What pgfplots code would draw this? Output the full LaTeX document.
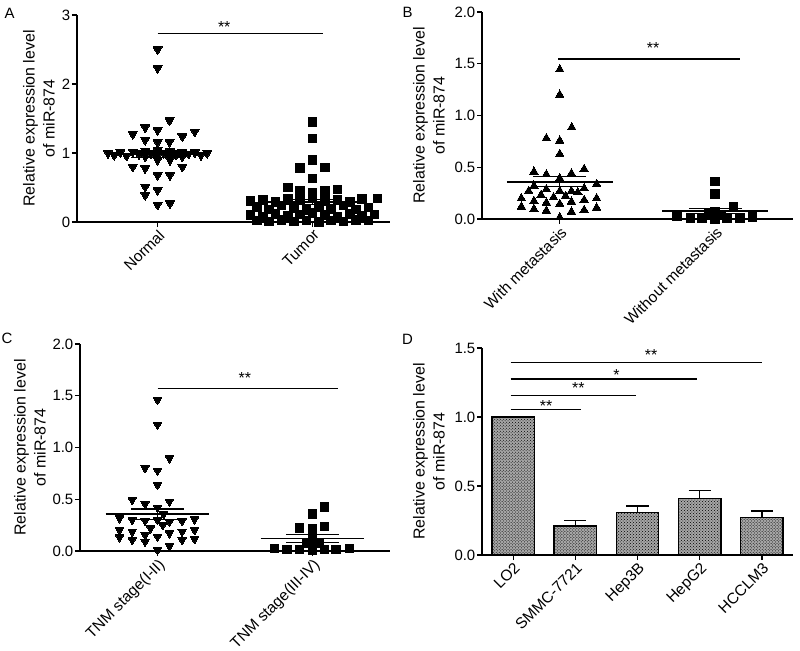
\documentclass[border=0pt]{standalone}
\usepackage{fontspec}
\setmainfont{Liberation Sans}
\usepackage{pgfplots}
\pgfplotsset{compat=1.18}
\usetikzlibrary{patterns}
\pgfplotsset{
  gp/.style={
    scale only axis, anchor=south west,
    axis lines=left,
    axis line style={-, line width=1.3bp},
    every tick/.style={black, line width=1.2bp},
    major tick length=5bp,
    tick align=outside,
    /pgf/number format/assume math mode=true,
    yticklabel style={font=\fontsize{15}{17}\selectfont, inner xsep=1.5bp},
    xticklabel style={font=\fontsize{15.5}{18}\selectfont, rotate=45, anchor=north east, inner sep=1bp},
    ylabel style={anchor=center, align=center, font=\fontsize{16}{20}\selectfont},
    clip=false,
  },
  tri/.style={only marks, mark=triangle*, mark size=#1, mark options={fill=black, draw=black, line width=0pt, rotate=180}},
  triup/.style={only marks, mark=triangle*, mark size=#1, mark options={fill=black, draw=black, line width=0pt}},
  sq/.style={only marks, mark=square*, mark size=#1, mark options={fill=black, draw=black, line width=0pt}},
  meanl/.style={black, line width=1.6bp, no marks},
  seml/.style={black, line width=1.1bp, no marks},
  sigl/.style={black, line width=1.4bp, no marks},
  errl/.style={black, line width=1.4bp, no marks},
}
\begin{document}
\fontsize{14}{17}\selectfont
\begin{tikzpicture}
\useasboundingbox (0,0) rectangle (800bp,651bp);
% ---------------- A ----------------
\begin{axis}[gp, at={(77bp,429bp)}, width=313bp, height=207bp,
  xmin=0.48, xmax=2.5, ymin=0, ymax=3, ytick={0,1,2,3},
  xtick={1,2}, xticklabels={Normal,Tumor},
  ylabel={Relative expression level\\of miR-874},
  ylabel style={at={([xshift=-38bp]rel axis cs:0,0.5)}}]
\addplot[tri=5.2bp] coordinates {
(1,2.50)(1,2.23)(1.077,1.47)(0.92,1.37)(1,1.33)(1.24,1.31)(0.84,1.275)(1.16,1.24)(0.92,1.19)(1,1.155)(1.077,1.16)
(0.68,1.00)(0.72,0.97)(0.76,1.01)(0.80,0.96)(0.84,1.02)(0.88,0.98)(0.92,1.03)(0.92,0.95)(0.96,0.99)(1,1.04)(1,0.96)
(1.04,1.00)(1.08,1.03)(1.08,0.95)(1.12,0.98)(1.16,1.02)(1.16,0.95)(1.20,0.99)(1.24,1.01)(1.28,0.97)(1.32,1.00)
(0.84,0.80)(0.92,0.78)(1,0.90)(1.08,0.90)(1.16,0.80)(1,0.68)(1.08,0.68)(0.92,0.51)(1,0.46)(0.92,0.39)(1,0.25)(1.08,0.27)};
\addplot[sq=4.3bp] coordinates {
(2,1.45)(2,1.21)(2,0.90)(1.92,0.78)(2.08,0.79)(2,0.63)(1.84,0.50)(1.92,0.45)(2.08,0.45)(2.16,0.47)(2,0.42)
(1.60,0.30)(1.68,0.32)(1.76,0.29)(1.84,0.33)(1.92,0.31)(2,0.36)(2.08,0.30)(2.16,0.32)(2.24,0.29)(2.32,0.33)(2.42,0.34)
(1.64,0.22)(1.72,0.18)(1.80,0.24)(1.88,0.20)(1.96,0.17)(2.04,0.22)(2.12,0.19)(2.20,0.24)(2.28,0.18)(2.36,0.21)
(1.60,0.10)(1.68,0.08)(1.76,0.12)(1.84,0.09)(1.92,0.11)(2,0.13)(2.08,0.10)(2.16,0.08)(2.24,0.12)(2.32,0.09)(2.40,0.11)
(1.64,0.02)(1.72,0.01)(1.80,0.03)(1.88,0.01)(1.96,0.02)(2.04,0.00)(2.12,0.02)(2.20,0.01)(2.28,0.03)(2.36,0.02)};
\addplot[meanl] coordinates {(0.67,0.99)(1.33,0.99)};
\addplot[seml] coordinates {(0.83,0.94)(1.17,0.94)};
\addplot[seml] coordinates {(0.83,1.04)(1.17,1.04)};
\addplot[seml] coordinates {(1,0.94)(1,1.04)};
\addplot[meanl] coordinates {(1.67,0.29)(2.33,0.29)};
\addplot[seml] coordinates {(1.83,0.25)(2.17,0.25)};
\addplot[seml] coordinates {(1.83,0.33)(2.17,0.33)};
\addplot[seml] coordinates {(2,0.25)(2,0.33)};
\addplot[sigl] coordinates {(1,2.73)(2.065,2.73)};
\node[anchor=base, font=\fontsize{16}{18}\selectfont, inner sep=0pt] at (axis cs:1.43,2.74) {**};
\end{axis}
% ---------------- B ----------------
\begin{axis}[gp, at={(482bp,432bp)}, width=311bp, height=207bp,
  xmin=0.5, xmax=2.5, ymin=0, ymax=2, ytick={0,0.5,1,1.5,2},
  yticklabels={0.0,0.5,1.0,1.5,2.0},
  xtick={1,2}, xticklabels={With metastasis,Without metastasis},
  ylabel={Relative expression level\\of miR-874},
  ylabel style={at={([xshift=-53bp]rel axis cs:0,0.5)}}]
\addplot[triup=4.9bp] coordinates {
(1,1.445)(1,1.20)(1.077,0.886)
(0.914,0.78)(1,0.757)(1,0.628)(0.834,0.457)(0.914,0.43)(1.075,0.44)(1.157,0.483)(1,0.393)
(0.834,0.32)(1.237,0.338)(0.914,0.287)(1,0.27)(1.075,0.27)(1.116,0.258)(1.157,0.297)(0.80,0.27)
(0.753,0.20)(0.88,0.232)(0.96,0.21)(1.037,0.222)(1.157,0.184)(1.237,0.20)(0.834,0.174)(0.914,0.157)
(1,0.145)(1.075,0.167)(0.753,0.119)(0.834,0.097)(0.914,0.08)(1.075,0.07)(1.157,0.087)(1.237,0.109)(1,0.016)};
\addplot[sq=4.3bp] coordinates {
(2,0.363)(2,0.244)(2.118,0.115)(1.753,0.03)(1.84,0.01)(1.914,0.01)(2,0.0)(2.075,0.01)(2.16,0.01)(2.24,0.02)(2,0.07)(1.96,0.05)(2.04,0.04)};
\addplot[meanl] coordinates {(0.66,0.36)(1.34,0.36)};
\addplot[seml] coordinates {(0.83,0.31)(1.17,0.31)};
\addplot[seml] coordinates {(0.83,0.41)(1.17,0.41)};
\addplot[seml] coordinates {(1,0.31)(1,0.41)};
\addplot[meanl] coordinates {(1.66,0.077)(2.34,0.077)};
\addplot[seml] coordinates {(1.83,0.05)(2.17,0.05)};
\addplot[seml] coordinates {(1.83,0.105)(2.17,0.105)};
\addplot[seml] coordinates {(2,0.05)(2,0.105)};
\addplot[sigl] coordinates {(0.99,1.544)(2.16,1.544)};
\node[anchor=base, font=\fontsize{16}{18}\selectfont, inner sep=0pt] at (axis cs:1.6,1.595) {**};
\end{axis}
% ---------------- C ----------------
\begin{axis}[gp, at={(80bp,100bp)}, width=310bp, height=207bp,
  xmin=0.5, xmax=2.5, ymin=0, ymax=2, ytick={0,0.5,1,1.5,2},
  yticklabels={0.0,0.5,1.0,1.5,2.0},
  xtick={1,2}, xticklabels={TNM stage(I-II),TNM stage(III-IV)},
  ylabel={Relative expression level\\of miR-874},
  ylabel style={at={([xshift=-50bp]rel axis cs:0,0.5)}}]
\addplot[tri=4.8bp] coordinates {
(1,1.46)(1,1.22)(1.077,0.895)(0.92,0.80)(1,0.776)(1,0.638)(0.837,0.493)(0.92,0.454)(1.077,0.477)(1,0.42)
(1.039,0.357)(0.755,0.316)(0.837,0.30)(0.92,0.293)(1,0.30)(1.077,0.283)(1.159,0.29)(1.239,0.306)
(0.955,0.219)(1.034,0.25)(0.755,0.203)(0.837,0.187)(0.92,0.155)(1,0.138)(1.077,0.171)(1.159,0.187)(1.239,0.203)
(0.755,0.132)(0.837,0.106)(0.92,0.09)(1.159,0.106)(1.239,0.116)(1,0.01)(1.077,0.048)};
\addplot[sq=4.3bp] coordinates {
(2.077,0.428)(2,0.357)(1.916,0.225)(2.077,0.235)(2,0.21)(2,0.106)(1.755,0.026)(1.834,0.016)(1.916,0.016)(2,0.01)(2.077,0.016)(2.153,0.016)(2.239,0.026)(1.96,0.074)(2.04,0.074)};
\addplot[meanl] coordinates {(0.665,0.357)(1.335,0.357)};
\addplot[seml] coordinates {(0.83,0.305)(1.17,0.305)};
\addplot[seml] coordinates {(0.83,0.406)(1.17,0.406)};
\addplot[seml] coordinates {(1,0.305)(1,0.406)};
\addplot[meanl] coordinates {(1.665,0.12)(2.335,0.12)};
\addplot[seml] coordinates {(1.83,0.08)(2.17,0.08)};
\addplot[seml] coordinates {(1.83,0.158)(2.17,0.158)};
\addplot[seml] coordinates {(2,0.08)(2,0.158)};
\addplot[sigl] coordinates {(1,1.57)(2.165,1.57)};
\node[anchor=base, font=\fontsize{16}{18}\selectfont, inner sep=0pt] at (axis cs:1.563,1.62) {**};
\end{axis}
% ---------------- D ----------------
\begin{axis}[gp, at={(482bp,96bp)}, width=311bp, height=207bp,
  xmin=-0.5, xmax=4.5, ymin=0, ymax=1.5, ytick={0,0.5,1,1.5},
  yticklabels={0.0,0.5,1.0,1.5},
  xtick={0,1,2,3,4}, xticklabels={LO2,SMMC-7721,Hep3B,HepG2,HCCLM3},
  ylabel={Relative expression level\\of miR-874},
  ylabel style={at={([xshift=-53bp]rel axis cs:0,0.5)}}]
% error bars (mean + SEM), drawn behind the bars
\addplot[errl] coordinates {(1,0.21)(1,0.249)};
\addplot[errl] coordinates {(0.823,0.249)(1.177,0.249)};
\addplot[errl] coordinates {(2,0.31)(2,0.356)};
\addplot[errl] coordinates {(1.823,0.356)(2.177,0.356)};
\addplot[errl] coordinates {(3,0.41)(3,0.467)};
\addplot[errl] coordinates {(2.823,0.467)(3.177,0.467)};
\addplot[errl] coordinates {(4,0.27)(4,0.32)};
\addplot[errl] coordinates {(3.823,0.32)(4.177,0.32)};
\addplot[ybar, bar width=0.68, draw=black, line width=1.4bp, fill=black!35,
  postaction={pattern=crosshatch dots, pattern color=black}]
  coordinates {(0,1.0) (1,0.21) (2,0.31) (3,0.41) (4,0.27)};
\addplot[sigl] coordinates {(-0.04,1.397)(4.0,1.397)};
\addplot[sigl] coordinates {(-0.04,1.276)(2.96,1.276)};
\addplot[sigl] coordinates {(-0.04,1.155)(1.98,1.155)};
\addplot[sigl] coordinates {(-0.04,1.053)(1.09,1.053)};
\node[anchor=base, font=\fontsize{16}{18}\selectfont, inner sep=0pt] at (axis cs:2.22,1.412) {**};
\node[anchor=base, font=\fontsize{16}{18}\selectfont, inner sep=0pt] at (axis cs:1.66,1.266) {*};
\node[anchor=base, font=\fontsize{16}{18}\selectfont, inner sep=0pt] at (axis cs:1.05,1.171) {**};
\node[anchor=base, font=\fontsize{16}{18}\selectfont, inner sep=0pt] at (axis cs:0.53,1.042) {**};
\end{axis}
% panel letters
\node[font=\fontsize{15}{17}\selectfont] at (9.5bp,637.7bp) {A};
\node[font=\fontsize{15}{17}\selectfont] at (407.5bp,639bp) {B};
\node[font=\fontsize{15}{17}\selectfont] at (7bp,313bp) {C};
\node[font=\fontsize{15}{17}\selectfont] at (407.5bp,312bp) {D};
\end{tikzpicture}
\end{document}
